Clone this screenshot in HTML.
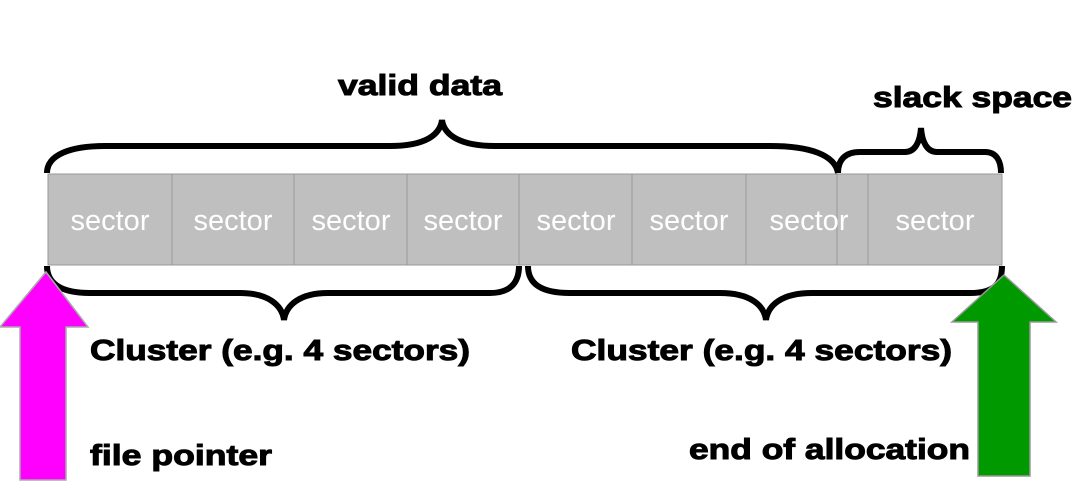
<!DOCTYPE html>
<html><head><meta charset="utf-8"><style>html,body{margin:0;padding:0;background:#fff}svg{display:block}</style></head>
<body>
<svg width="1089" height="501" viewBox="0 0 1089 501" xmlns="http://www.w3.org/2000/svg" font-family="Liberation Sans, Arial, sans-serif">
<rect x="48" y="174" width="954" height="91" fill="#bfbfbf" stroke="#999" stroke-width="1"/>
<g stroke="#999" stroke-width="1">
<line x1="172" y1="174" x2="172" y2="265"/><line x1="294" y1="174" x2="294" y2="265"/>
<line x1="407" y1="174" x2="407" y2="265"/><line x1="519" y1="174" x2="519" y2="265"/>
<line x1="632" y1="174" x2="632" y2="265"/><line x1="746" y1="174" x2="746" y2="265"/>
<line x1="837" y1="174" x2="837" y2="265"/><line x1="868" y1="174" x2="868" y2="265"/>
</g>
<g fill="#fff" font-size="29" text-anchor="middle">
<text x="110" y="230">sector</text><text x="233" y="230">sector</text><text x="351" y="230">sector</text>
<text x="463" y="230">sector</text><text x="576" y="230">sector</text><text x="689" y="230">sector</text>
<text x="809" y="230">sector</text><text x="935" y="230">sector</text>
</g>
<g fill="none" stroke="#000" stroke-width="6">
<path d="M47,173 C47,155 70,146 105,146 L390,146 C425,146 440,135 442,120 C444,135 460,146 495,146 L770,146 C810,146 835,155 838,173"/>
<path d="M838,173 C838,160 845,152 860,152 L905,152 C915,152 920,142 921,128 C922,142 927,152 937,152 L985,152 C997,152 1001,162 1001,173"/>
<path d="M47,266 C47,283 60,293 90,293 L240,293 C268,293 282,305 284,320 C286,305 300,293 328,293 L490,293 C510,293 519,283 519,266"/>
<path d="M528,266 C528,283 540,293 570,293 L720,293 C750,293 764,305 766,320 C768,305 782,293 812,293 L970,293 C995,293 1002,283 1002,266"/>
</g>
<polygon points="46,272 88,327 66,327 66,480 20,480 20,327 0,327" fill="#ff00ff" stroke="#aaa" stroke-width="1.5"/>
<polygon points="1004,275 1056,322 1030,322 1030,476 978,476 978,322 952,322" fill="#009900" stroke="#999" stroke-width="1.5"/>
<g font-size="29" font-weight="bold" fill="#000" stroke="#000" stroke-width="1">
<text x="338" y="95" textLength="164" lengthAdjust="spacingAndGlyphs">valid data</text>
<text x="873" y="107" textLength="199" lengthAdjust="spacingAndGlyphs">slack space</text>
<text x="90" y="360" textLength="380" lengthAdjust="spacingAndGlyphs">Cluster (e.g. 4 sectors)</text>
<text x="571" y="360" textLength="381" lengthAdjust="spacingAndGlyphs">Cluster (e.g. 4 sectors)</text>
<text x="90" y="465" textLength="182" lengthAdjust="spacingAndGlyphs">file pointer</text>
<text x="689" y="459" textLength="281" lengthAdjust="spacingAndGlyphs">end of allocation</text>
</g>
</svg>
</body></html>
